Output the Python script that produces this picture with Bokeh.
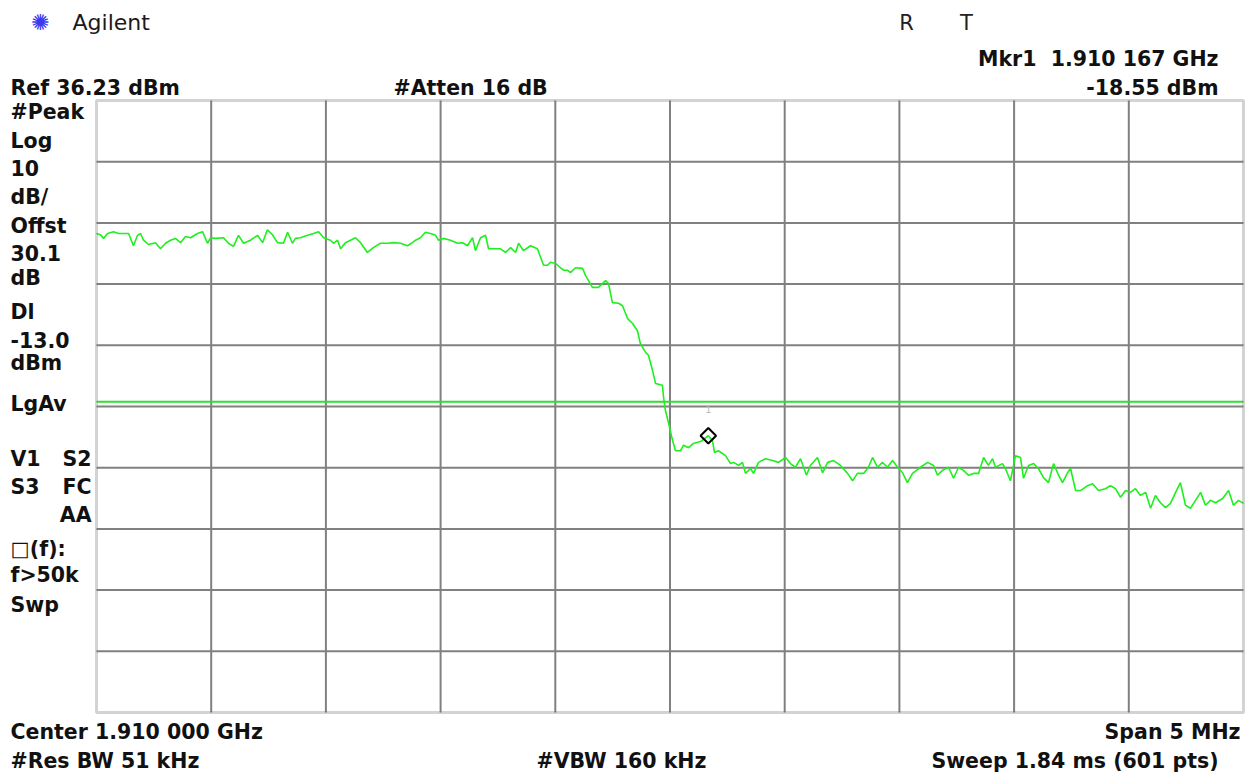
import math
from bokeh.plotting import figure
from bokeh.models import Label, BoxAnnotation, ColumnDataSource, Range1d
from bokeh.embed import file_html
from bokeh.resources import INLINE

# ---------------- data ----------------
freq_mhz = [
    1907.500, 1907.517, 1907.531, 1907.548, 1907.574, 1907.596, 1907.618, 1907.640, 1907.661, 1907.679,
    1907.692, 1907.705, 1907.727, 1907.757, 1907.779, 1907.801, 1907.823, 1907.844, 1907.866, 1907.888,
    1907.910, 1907.940, 1907.962, 1907.984, 1907.997, 1908.019, 1908.054, 1908.075, 1908.097, 1908.119,
    1908.141, 1908.171, 1908.202, 1908.224, 1908.245, 1908.267, 1908.289, 1908.315, 1908.333, 1908.354,
    1908.367, 1908.389, 1908.420, 1908.446, 1908.468, 1908.490, 1908.520, 1908.533, 1908.551, 1908.564,
    1908.585, 1908.607, 1908.629, 1908.651, 1908.681, 1908.707, 1908.738, 1908.769, 1908.795, 1908.825,
    1908.856, 1908.877, 1908.891, 1908.912, 1908.934, 1908.956, 1908.978, 1908.991, 1909.013, 1909.043,
    1909.074, 1909.096, 1909.117, 1909.139, 1909.152, 1909.174, 1909.196, 1909.209, 1909.231, 1909.261,
    1909.283, 1909.305, 1909.327, 1909.340, 1909.361, 1909.392, 1909.422, 1909.449, 1909.466, 1909.479,
    1909.501, 1909.523, 1909.536, 1909.553, 1909.566, 1909.588, 1909.619, 1909.632, 1909.662, 1909.688,
    1909.719, 1909.732, 1909.749, 1909.776, 1909.793, 1909.815, 1909.837, 1909.858, 1909.871, 1909.893,
    1909.906, 1909.924, 1909.937, 1909.967, 1909.972, 1909.980, 1909.994, 1910.011, 1910.024, 1910.046,
    1910.059, 1910.081, 1910.102, 1910.133, 1910.167, 1910.185, 1910.194, 1910.211, 1910.242, 1910.264,
    1910.277, 1910.299, 1910.316, 1910.329, 1910.351, 1910.364, 1910.386, 1910.416, 1910.447, 1910.473,
    1910.504, 1910.525, 1910.547, 1910.569, 1910.595, 1910.612, 1910.643, 1910.665, 1910.687, 1910.713,
    1910.743, 1910.774, 1910.796, 1910.817, 1910.844, 1910.865, 1910.883, 1910.905, 1910.926, 1910.948,
    1910.970, 1910.992, 1911.014, 1911.035, 1911.057, 1911.092, 1911.123, 1911.149, 1911.166, 1911.188,
    1911.214, 1911.236, 1911.258, 1911.279, 1911.301, 1911.323, 1911.345, 1911.367, 1911.388, 1911.406,
    1911.419, 1911.449, 1911.462, 1911.484, 1911.506, 1911.528, 1911.541, 1911.563, 1911.585, 1911.606,
    1911.628, 1911.650, 1911.672, 1911.694, 1911.711, 1911.733, 1911.746, 1911.768, 1911.790, 1911.820,
    1911.842, 1911.868, 1911.898, 1911.920, 1911.942, 1911.964, 1911.986, 1912.007, 1912.029, 1912.051,
    1912.073, 1912.095, 1912.116, 1912.138, 1912.160, 1912.182, 1912.204, 1912.225, 1912.247, 1912.269,
    1912.291, 1912.313, 1912.334, 1912.356, 1912.378, 1912.409, 1912.435, 1912.456, 1912.478, 1912.500,
]
level_dbm = [
    14.5, 14.3, 13.7, 14.5, 14.8, 14.5, 14.5, 14.5, 12.5, 14.2,
    14.5, 13.4, 12.7, 13.0, 12.0, 12.9, 13.4, 13.7, 13.0, 14.0,
    13.8, 14.5, 14.8, 12.9, 13.8, 13.7, 13.8, 12.9, 12.4, 14.2,
    12.9, 13.4, 14.2, 13.0, 15.1, 14.3, 13.0, 12.9, 14.7, 12.9,
    13.7, 13.8, 14.2, 14.5, 14.8, 13.8, 13.4, 12.9, 13.4, 12.0,
    13.0, 13.4, 13.8, 13.0, 11.4, 12.2, 12.9, 12.9, 13.0, 12.9,
    12.5, 13.0, 13.4, 13.8, 14.7, 14.5, 14.2, 13.4, 13.7, 13.4,
    12.9, 13.0, 12.5, 13.8, 11.7, 13.8, 14.2, 12.0, 12.0, 12.0,
    11.4, 12.2, 11.4, 12.9, 11.7, 12.5, 12.0, 9.3, 9.3, 9.8,
    9.6, 8.9, 8.5, 8.5, 8.1, 8.9, 8.8, 7.6, 5.7, 5.7,
    6.8, 6.3, 3.2, 3.1, 2.7, 0.6, -0.2, -1.4, -3.5, -4.9,
    -5.4, -7.9, -10.0, -10.3, -12.3, -14.4, -16.5, -19.3, -21.0, -21.0,
    -20.1, -20.5, -19.8, -19.5, -18.55, -19.3, -21.3, -21.0, -21.8, -23.1,
    -22.9, -23.4, -22.9, -24.7, -23.9, -24.7, -22.9, -22.3, -22.6, -22.9,
    -22.1, -23.1, -23.7, -22.3, -25.0, -23.4, -22.1, -24.6, -22.9, -22.6,
    -23.4, -24.7, -25.9, -24.7, -24.7, -23.7, -22.1, -23.7, -22.9, -23.7,
    -22.6, -23.7, -24.6, -26.2, -24.7, -23.7, -22.9, -23.4, -25.0, -24.2,
    -23.7, -25.5, -23.7, -24.2, -25.0, -24.7, -24.7, -22.1, -23.4, -22.3,
    -23.7, -23.1, -23.9, -25.9, -21.8, -22.1, -25.5, -23.4, -23.1, -23.9,
    -25.4, -26.2, -23.1, -25.0, -26.2, -24.6, -23.9, -27.5, -27.5, -26.7,
    -26.4, -27.5, -27.2, -26.7, -27.2, -28.6, -27.5, -27.8, -27.2, -28.3,
    -27.8, -30.4, -28.3, -29.5, -30.3, -29.6, -27.8, -26.2, -29.9, -30.4,
    -29.1, -27.8, -29.9, -29.1, -29.5, -28.8, -27.5, -29.9, -29.1, -29.6,
]
marker_freq_mhz = [1910.167]
marker_level_dbm = [-18.55]
ref_level_dbm = 36.23
db_per_div = 10
n_divs = 10
display_line_dbm = -13.0
center_mhz = 1910.0
span_mhz = 5.0

# ---------------- geometry ----------------
W, H = 1250, 774          # canvas
GL, GT = 96, 100          # graticule left / top edge on the canvas
GW, GH = 1147, 612        # graticule size

x_lo = center_mhz - span_mhz / 2
x_hi = center_mhz + span_mhz / 2
y_hi = ref_level_dbm
y_lo = ref_level_dbm - n_divs * db_per_div
px_x = GW / (x_hi - x_lo)
px_y = GH / (y_hi - y_lo)

# the plot frame covers the whole canvas so that the instrument texts around
# the graticule can be drawn through the same scales
x_range = Range1d(x_lo - GL / px_x, x_lo + (W - GL) / px_x)
y_range = Range1d(y_hi - (H - GT) / px_y, y_hi + GT / px_y)

p = figure(width=W, height=H, x_range=x_range, y_range=y_range,
           output_backend="svg", toolbar_location=None,
           x_axis_location=None, y_axis_location=None,
           min_border_left=0, min_border_right=0, min_border_top=0, min_border_bottom=0)
p.background_fill_color = "white"
p.border_fill_color = "white"
p.outline_line_color = None
p.grid.visible = False

# graticule
vx = [x_lo + i * span_mhz / n_divs for i in range(1, n_divs)]
hy = [y_hi - i * db_per_div for i in range(1, n_divs)]
p.segment(x0=vx, y0=[y_lo] * len(vx), x1=vx, y1=[y_hi] * len(vx),
          line_color="#808080", line_width=2)
p.segment(x0=[x_lo] * len(hy), y0=hy, x1=[x_hi] * len(hy), y1=hy,
          line_color="#808080", line_width=2)

# display line
p.line([x_lo, x_hi], [display_line_dbm, display_line_dbm], line_color="#2ee02e", line_width=2)

# trace
src = ColumnDataSource(data=dict(f=freq_mhz, l=level_dbm))
p.line("f", "l", source=src, line_color="#1ef01e", line_width=1.6)

# graticule border
p.add_layout(BoxAnnotation(left=x_lo, right=x_hi, bottom=y_lo, top=y_hi,
                           fill_alpha=0, line_color="#6e6e6e", line_width=3))

# marker (diamond = square turned by 45 degrees)
p.scatter(marker_freq_mhz, marker_level_dbm, marker="square", angle=math.pi / 4, size=11,
          fill_color=None, line_color="black", line_width=2)
p.add_layout(Label(x=marker_freq_mhz[0], y=marker_level_dbm[0], y_offset=27,
                   text="1", text_align="center", text_baseline="middle",
                   text_font="DejaVu Sans", text_font_size="10px", text_color="#bdbdbd"))


def lab(text, ix, iy, align="left", size="20.5px", bold=True, color="#111111", font="DejaVu Sans"):
    # place a text at a canvas position (ix, iy) expressed through the data scales
    xd = x_lo + (ix - GL) / px_x
    yd = y_hi - (iy - GT) / px_y
    p.add_layout(Label(x=xd, y=yd, text=text, text_align=align, text_baseline="middle",
                       text_font=font, text_font_style="bold" if bold else "normal",
                       text_font_size=size, text_color=color))


NB = "\u00a0"

# header
lab("\u273a", 40, 22, align="center", size="22px", bold=False, color="#3a3af0")
lab("Agilent", 72, 22, size="22px", bold=False, color="#1a1a1a")
lab("R", 906, 22, align="center", size="21px", bold=False, color="#222222")
lab("T", 966, 22, align="center", size="21px", bold=False, color="#222222")
lab("Mkr1" + NB + NB + "1.910 167 GHz", 1218, 58, align="right")
lab("-18.55 dBm", 1218, 87, align="right")
lab("Ref 36.23 dBm", 10, 87)
lab("#Atten 16 dB", 393, 87)

# left column
for txt, iy in [("#Peak", 111), ("Log", 140), ("10", 167), ("dB/", 196), ("Offst", 225),
                ("30.1", 252), ("dB", 277), ("Dl", 311), ("-13.0", 339), ("dBm", 362),
                ("LgAv", 403), ("V1", 458), ("S3", 486), ("\u25a1(f):", 548),
                ("f>50k", 574), ("Swp", 604)]:
    lab(txt, 10, iy)
lab("S2", 91, 458, align="right")
lab("FC", 91, 486, align="right")
lab("AA", 91, 514, align="right")

# footer
lab("Center 1.910 000 GHz", 10, 731)
lab("Span 5 MHz", 1240, 731, align="right")
lab("#Res BW 51 kHz", 10, 760)
lab("#VBW 160 kHz", 536, 760)
lab("Sweep 1.84 ms (601 pts)", 1218, 760, align="right")

open("out.html", "w").write(file_html(p, INLINE))
